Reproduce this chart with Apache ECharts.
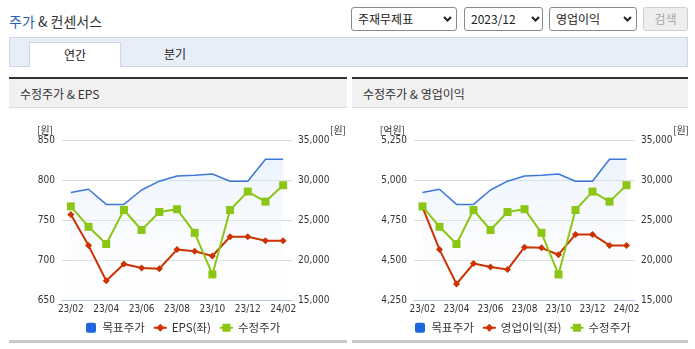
<!DOCTYPE html>
<html>
<head>
<meta charset="utf-8">
<script src="https://cdn.jsdelivr.net/npm/echarts@6/dist/echarts.min.js"></script>
<style>
  html, body { margin: 0; padding: 0; background: #fff; }
  body { width: 695px; height: 349px; position: relative; overflow: hidden;
         font-family: 'Noto Sans CJK KR', 'Noto Sans', sans-serif; color: #333; }
  .abs { position: absolute; }
  .title { left: 9px; top: 11px; font-size: 14px; line-height: 20px; color: #333; }
  .title b { font-weight: normal; color: #2b5fb4; }
  .sel { top: 7px; height: 22px; border: 1px solid #8a8a8a; border-radius: 3px; background: #fff;
         font-size: 12px; line-height: 22px; color: #222; box-sizing: content-box; }
  .sel span { position: absolute; left: 6px; top: 0; }
  .sel svg { position: absolute; top: 8px; }
  .btn { left: 643px; top: 7px; width: 43px; height: 22px; border: 1px solid #cfcfcf; border-radius: 3px;
         background: #eeeeee; color: #a8a8a8; font-size: 12px; line-height: 22px; text-align: center; }
  .tabbar { left: 9px; top: 37px; width: 677px; height: 28px; background: #e8eef8; border: 1px solid #cdd6e6; }
  .tab-on { left: 29px; top: 42px; width: 90px; height: 24px; background: #fff; border: 1px solid #cdd6e6;
            border-bottom: none; font-size: 12px; line-height: 24px; text-align: center; color: #222; }
  .tab-off { left: 130px; top: 42px; width: 90px; height: 24px; font-size: 12px; line-height: 24px;
             text-align: center; color: #222; }
  .panel-top { top: 77px; height: 2px; background: #333; }
  .panel-head { top: 79px; height: 29px; background: #f1f1f1; border-bottom: 1px solid #dcdcdc;
                font-size: 12px; line-height: 30px; color: #333; box-sizing: border-box; padding-left: 11px; }
  .panel-foot { top: 340px; height: 3px; background: #c9c9c9; }
  #chart { position: absolute; left: 0; top: 0; width: 695px; height: 349px; }
</style>
</head>
<body>
<div class="abs title"><b>주가</b> &amp; 컨센서스</div>

<div class="abs sel" style="left:351px;width:104px;"><span>주재무제표</span>
  <svg style="left:91px" width="9" height="6" viewBox="0 0 9 6"><polyline points="1,1 4.5,4.5 8,1" fill="none" stroke="#222" stroke-width="2"/></svg></div>
<div class="abs sel" style="left:464px;width:77px;"><span>2023/12</span>
  <svg style="left:66px" width="9" height="6" viewBox="0 0 9 6"><polyline points="1,1 4.5,4.5 8,1" fill="none" stroke="#222" stroke-width="2"/></svg></div>
<div class="abs sel" style="left:549px;width:86px;"><span>영업이익</span>
  <svg style="left:73px" width="9" height="6" viewBox="0 0 9 6"><polyline points="1,1 4.5,4.5 8,1" fill="none" stroke="#222" stroke-width="2"/></svg></div>
<div class="abs btn">검색</div>

<div class="abs tabbar"></div>
<div class="abs tab-on">연간</div>
<div class="abs tab-off">분기</div>

<div class="abs panel-top" style="left:9px;width:338px;"></div>
<div class="abs panel-head" style="left:9px;width:338px;">수정주가 &amp; EPS</div>
<div class="abs panel-foot" style="left:9px;width:338px;"></div>

<div class="abs panel-top" style="left:352px;width:336px;"></div>
<div class="abs panel-head" style="left:352px;width:336px;">수정주가 &amp; 영업이익</div>
<div class="abs panel-foot" style="left:352px;width:336px;"></div>

<div id="chart"></div>

<script>
// Monthly periods shown on both charts
const months = ['23/02', '23/03', '23/04', '23/05', '23/06', '23/07', '23/08',
                '23/09', '23/10', '23/11', '23/12', '24/01', '24/02'];

// Consensus target price (원)
const targetPrice = [28450, 28850, 26950, 26950, 28750, 29850, 30500,
                     30600, 30750, 29850, 29850, 32600, 32600];

// Adjusted share price (원)
const adjPrice = [26700, 24150, 22000, 26250, 23750, 26000, 26350,
                  23400, 18200, 26250, 28550, 27300, 29350];

// EPS consensus (원)
const eps = [757, 718, 674, 695, 690, 689, 713, 711, 705, 729, 729, 724, 724];

// Operating profit consensus (억원)
const opProfit = [4830, 4565, 4350, 4478, 4456, 4440, 4580, 4576, 4533, 4660, 4660, 4591, 4591];

// Axis ranges
const epsAxis = { min: 650, max: 850, interval: 50 };
const opAxis = { min: 4250, max: 5250, interval: 250 };
const priceAxis = { min: 15000, max: 35000, interval: 5000 };

const NARROW = "'Liberation Sans Narrow', 'Arial Narrow', 'DejaVu Sans Condensed', 'Liberation Sans', sans-serif";
const KR = "'Noto Sans CJK KR', 'Noto Sans', sans-serif";

const C_TARGET = '#3b78d8';
const C_TARGET_ICON = '#1f66dd';
const C_RED = '#cc3300';
const C_GREEN = '#8cc615';
const AXIS_LINE = '#b7c5dc';

const chart = echarts.init(document.getElementById('chart'), null, { renderer: 'canvas' });

function xAxisFor(gridIndex) {
  return {
    type: 'category', gridIndex, data: months, boundaryGap: true,
    axisLine: { lineStyle: { color: AXIS_LINE, width: 1 } },
    axisTick: {
      length: 4, lineStyle: { color: AXIS_LINE },
      interval: (i) => i === 0 || i % 2 === 1
    },
    axisLabel: { interval: 1, fontSize: 10, fontFamily: NARROW, color: '#333', margin: 4 },
    splitLine: { show: false }
  };
}

function leftAxis(gridIndex, range, unit) {
  return {
    type: 'value', gridIndex, position: 'left',
    min: range.min, max: range.max, interval: range.interval,
    name: unit, nameLocation: 'end', nameGap: 5,
    nameTextStyle: { fontSize: 10, fontFamily: KR, color: '#333', align: 'right', padding: [0, 9, 0, 0] },
    axisLine: { show: false }, axisTick: { show: false },
    axisLabel: { fontSize: 10, fontFamily: NARROW, color: '#333', margin: 7 },
    splitLine: { lineStyle: { color: '#dcdcdc', width: 1 } }
  };
}

function rightAxis(gridIndex) {
  return {
    type: 'value', gridIndex, position: 'right',
    min: priceAxis.min, max: priceAxis.max, interval: priceAxis.interval,
    name: '[원]', nameLocation: 'end', nameGap: 5,
    nameTextStyle: { fontSize: 10, fontFamily: KR, color: '#333', align: 'left', padding: [0, 0, 0, 38] },
    axisLine: { show: false }, axisTick: { show: false },
    axisLabel: { fontSize: 10, fontFamily: NARROW, color: '#333', margin: 6 },
    splitLine: { show: false }
  };
}

function targetSeries(xi, yi) {
  return {
    name: '목표주가', type: 'line', xAxisIndex: xi, yAxisIndex: yi,
    data: targetPrice, symbol: 'none', z: 1,
    lineStyle: { color: C_TARGET, width: 1.5 },
    itemStyle: { color: C_TARGET_ICON },
    areaStyle: {
      color: new echarts.graphic.LinearGradient(0, 0, 0, 1, [
        { offset: 0, color: 'rgba(205,225,248,0.55)' },
        { offset: 1, color: 'rgba(255,255,255,0.2)' }
      ])
    }
  };
}

function consensusSeries(name, values, xi, yi) {
  return {
    name, type: 'line', xAxisIndex: xi, yAxisIndex: yi, data: values, z: 2,
    symbol: 'diamond', symbolSize: 7,
    lineStyle: { color: C_RED, width: 2 }, itemStyle: { color: C_RED }
  };
}

function priceSeries(xi, yi) {
  return {
    name: '수정주가', type: 'line', xAxisIndex: xi, yAxisIndex: yi, data: adjPrice, z: 3,
    symbol: 'rect', symbolSize: 8,
    lineStyle: { color: C_GREEN, width: 2 }, itemStyle: { color: C_GREEN }
  };
}

const squareIcon = 'path://M2,0H8A2,2,0,0,1,10,2V8A2,2,0,0,1,8,10H2A2,2,0,0,1,0,8V2A2,2,0,0,1,2,0Z';

function legendFor(left, middleName) {
  return {
    left, top: 317, itemWidth: 13, itemHeight: 10, itemGap: 8, selectedMode: false,
    textStyle: { fontSize: 11.5, fontFamily: KR, color: '#333' },
    data: [
      { name: '목표주가', icon: squareIcon, itemStyle: { color: C_TARGET_ICON } },
      { name: middleName },
      { name: '수정주가' }
    ]
  };
}

chart.setOption({
  animation: false,
  backgroundColor: 'transparent',
  grid: [
    { left: 62, top: 140, width: 230, height: 160 },
    { left: 414, top: 140, width: 221, height: 160 }
  ],
  xAxis: [xAxisFor(0), xAxisFor(1)],
  yAxis: [
    leftAxis(0, epsAxis, '[원]'), rightAxis(0),
    leftAxis(1, opAxis, '[억원]'), rightAxis(1)
  ],
  legend: [legendFor(81, 'EPS(좌)'), legendFor(410, '영업이익(좌)')],
  series: [
    targetSeries(0, 1), consensusSeries('EPS(좌)', eps, 0, 0), priceSeries(0, 1),
    targetSeries(1, 3), consensusSeries('영업이익(좌)', opProfit, 1, 2), priceSeries(1, 3)
  ]
});
</script>
</body>
</html>
